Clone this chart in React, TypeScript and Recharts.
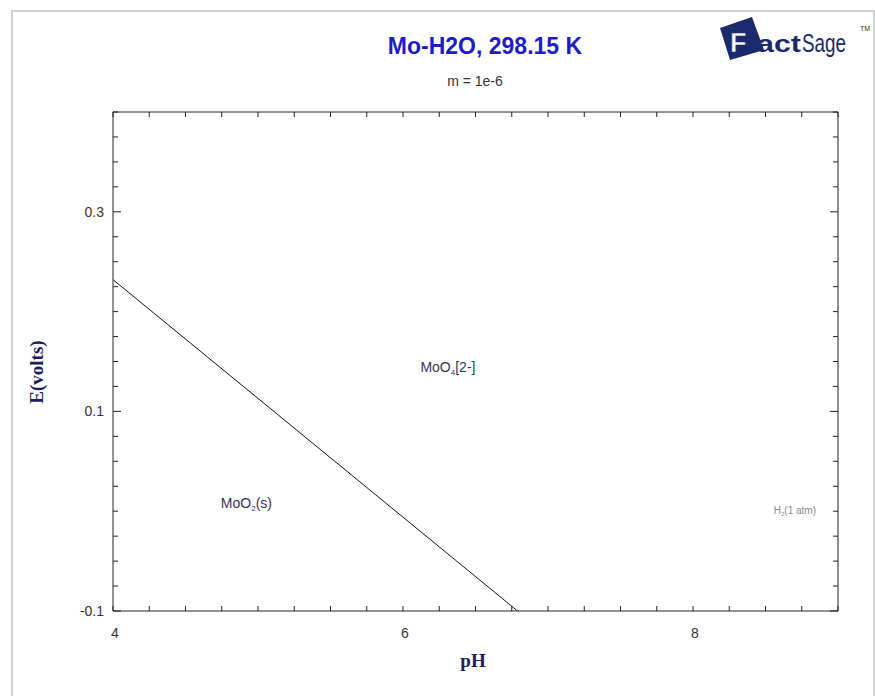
import React from 'react';
import { LineChart, Line, XAxis, YAxis, ReferenceDot } from 'recharts';

// Mo-H2O Pourbaix diagram, 298.15 K, m = 1e-6
const boundaryPh = [4, 6.79];
const boundaryE = [0.232, -0.1];

const xTicks = [4, 4.25, 4.5, 4.75, 5, 5.25, 5.5, 5.75, 6, 6.25, 6.5, 6.75, 7, 7.25, 7.5, 7.75, 8, 8.25, 8.5, 8.75, 9];
const xLabels = [4, 6, 8];
const yTicks = [
  -0.1, -0.075, -0.05, -0.025, 0, 0.025, 0.05, 0.075, 0.1, 0.125, 0.15, 0.175, 0.2, 0.225, 0.25, 0.275, 0.3,
  0.325, 0.35, 0.375, 0.4,
];
const yLabels = [0.3, 0.1, -0.1];

const regionNames = ['MoO', 'MoO'];
const regionSubs = ['4', '2'];
const regionTails = ['[2-]', '(s)'];
const regionPh = [6.31, 4.92];
const regionE = [0.144, 0.008];

const gasName = ['H', '2', '(1 atm)'];
const gasPh = 9;
const gasE = 0;

const data = boundaryPh.map((ph, i) => ({ ph, e: boundaryE[i] }));

const near = (a: number, b: number) => Math.abs(a - b) < 1e-6;
const sans = "Arial, 'Liberation Sans', sans-serif";
const serif = "'Liberation Serif', 'Times New Roman', serif";

function BottomTick({ x, y, payload }: any) {
  const v = payload.value;
  const major = xLabels.some((l) => near(l, v));
  return (
    <g>
      <line x1={x} y1={y} x2={x} y2={y - 5} stroke="#222" />
      {major && (
        <text x={x + 2} y={y + 27} textAnchor="middle" fontSize={14} fill="#333" fontFamily={sans}>
          {v}
        </text>
      )}
    </g>
  );
}

function TopTick({ x, y }: any) {
  return <line x1={x} y1={y} x2={x} y2={y + 5} stroke="#222" />;
}

function LeftTick({ x, y, payload }: any) {
  const v = payload.value;
  const major = yLabels.some((l) => near(l, v));
  return (
    <g>
      <line x1={x} y1={y} x2={x + (major ? 8 : 5)} y2={y} stroke="#222" />
      {major && (
        <text x={x - 9} y={y + 5} textAnchor="end" fontSize={14} fill="#333" fontFamily={sans}>
          {v}
        </text>
      )}
    </g>
  );
}

function RightTick({ x, y, payload }: any) {
  const major = yLabels.some((l) => near(l, payload.value));
  return <line x1={x} y1={y} x2={x - (major ? 8 : 5)} y2={y} stroke="#222" />;
}

function regionShape(i: number) {
  return (p: any) => (
    <text x={p.cx} y={p.cy + 5} textAnchor="middle" fontSize={14} fill="#33335e" fontFamily={sans}>
      {regionNames[i]}
      <tspan dy={3} fontSize={8}>
        {regionSubs[i]}
      </tspan>
      <tspan dy={-3}>{regionTails[i]}</tspan>
    </text>
  );
}

function gasShape(p: any) {
  return (
    <text x={p.cx - 22} y={p.cy + 3} textAnchor="end" fontSize={10} fill="#8a8a8a" fontFamily={sans}>
      {gasName[0]}
      <tspan dy={2} fontSize={6}>
        {gasName[1]}
      </tspan>
      <tspan dy={-2}>{gasName[2]}</tspan>
    </text>
  );
}

function Logo() {
  return (
    <svg width={160} height={56} style={{ position: 'absolute', left: 714, top: 12 }}>
      <polygon points="6,16 38,5 50,38 16,48" fill="#1b2a6b" />
      <text x={16} y={40} fontSize={27} fontWeight="bold" fill="#fff" stroke="#1b2a6b" strokeWidth={0.5} fontFamily={sans}>
        F
      </text>
      <text
        x={43}
        y={40}
        fontSize={24}
        fontWeight="bold"
        fill="#1b2a6b"
        fontFamily={sans}
        textLength={44}
        lengthAdjust="spacingAndGlyphs"
      >
        act
      </text>
      <text
        x={88}
        y={40}
        fontSize={25}
        fill="#1b2a6b"
        fontFamily={sans}
        textLength={44}
        lengthAdjust="spacingAndGlyphs"
      >
        Sage
      </text>
      <text x={146} y={19} fontSize={7} fill="#1b2a6b" fontFamily={sans}>
        TM
      </text>
    </svg>
  );
}

export default function App() {
  return (
    <div
      style={{
        position: 'absolute',
        left: 0,
        top: 0,
        width: 875,
        height: 696,
        background: '#fff',
        overflow: 'hidden',
        fontFamily: sans,
      }}
    >
      <div
        style={{
          position: 'absolute',
          left: 11,
          top: 10,
          width: 860,
          height: 700,
          borderLeft: '2px solid #d2d2d2',
          borderTop: '2px solid #d2d2d2',
          borderRight: '2px solid #d2d2d2',
        }}
      />
      <div
        style={{
          position: 'absolute',
          left: 285,
          width: 400,
          top: 33,
          textAlign: 'center',
          fontSize: 23,
          fontWeight: 'bold',
          color: '#1c1cc8',
        }}
      >
        Mo-H2O, 298.15 K
      </div>
      <div style={{ position: 'absolute', left: 375, width: 200, top: 73, textAlign: 'center', fontSize: 14, color: '#333' }}>
        m = 1e-6
      </div>
      <Logo />
      <div style={{ position: 'absolute', left: 0, top: 0 }}>
        <LineChart width={875} height={696} data={data} margin={{ top: 107, right: 32, bottom: 55, left: 53 }}>
          <XAxis
            xAxisId="bottom"
            dataKey="ph"
            type="number"
            domain={[4, 9]}
            ticks={xTicks}
            interval={0}
            allowDataOverflow
            height={30}
            tickSize={0}
            tickMargin={0}
            tickLine={false}
            axisLine={{ stroke: '#222' }}
            tick={BottomTick}
          />
          <XAxis
            xAxisId="top"
            orientation="top"
            dataKey="ph"
            type="number"
            domain={[4, 9]}
            ticks={xTicks}
            interval={0}
            allowDataOverflow
            height={5}
            tickSize={0}
            tickMargin={0}
            tickLine={false}
            axisLine={{ stroke: '#222' }}
            tick={TopTick}
          />
          <YAxis
            yAxisId="left"
            type="number"
            domain={[-0.1, 0.4]}
            ticks={yTicks}
            interval={0}
            allowDataOverflow
            width={60}
            tickSize={0}
            tickMargin={0}
            tickLine={false}
            axisLine={{ stroke: '#222' }}
            tick={LeftTick}
          />
          <YAxis
            yAxisId="right"
            orientation="right"
            type="number"
            domain={[-0.1, 0.4]}
            ticks={yTicks}
            interval={0}
            allowDataOverflow
            width={5}
            tickSize={0}
            tickMargin={0}
            tickLine={false}
            axisLine={{ stroke: '#222' }}
            tick={RightTick}
          />
          <Line
            xAxisId="top"
            yAxisId="right"
            dataKey="e"
            stroke="none"
            dot={false}
            isAnimationActive={false}
          />
          <Line
            xAxisId="bottom"
            yAxisId="left"
            dataKey="e"
            type="linear"
            stroke="#111"
            strokeWidth={1}
            dot={false}
            isAnimationActive={false}
          />
          {regionPh.map((ph, i) => (
            <ReferenceDot
              key={i}
              xAxisId="bottom"
              yAxisId="left"
              x={ph}
              y={regionE[i]}
              r={0}
              shape={regionShape(i)}
            />
          ))}
          <ReferenceDot xAxisId="bottom" yAxisId="left" x={gasPh} y={gasE} r={0} shape={gasShape} />
        </LineChart>
      </div>
      <div
        style={{
          position: 'absolute',
          left: 37,
          top: 372,
          transform: 'translate(-50%, -50%) rotate(-90deg)',
          fontFamily: serif,
          fontWeight: 'bold',
          fontSize: 19,
          color: '#1d1d5e',
          whiteSpace: 'nowrap',
        }}
      >
        E(volts)
      </div>
      <div
        style={{
          position: 'absolute',
          left: 373,
          width: 200,
          top: 650,
          textAlign: 'center',
          fontFamily: serif,
          fontWeight: 'bold',
          fontSize: 19,
          color: '#1d1d5e',
        }}
      >
        pH
      </div>
    </div>
  );
}
